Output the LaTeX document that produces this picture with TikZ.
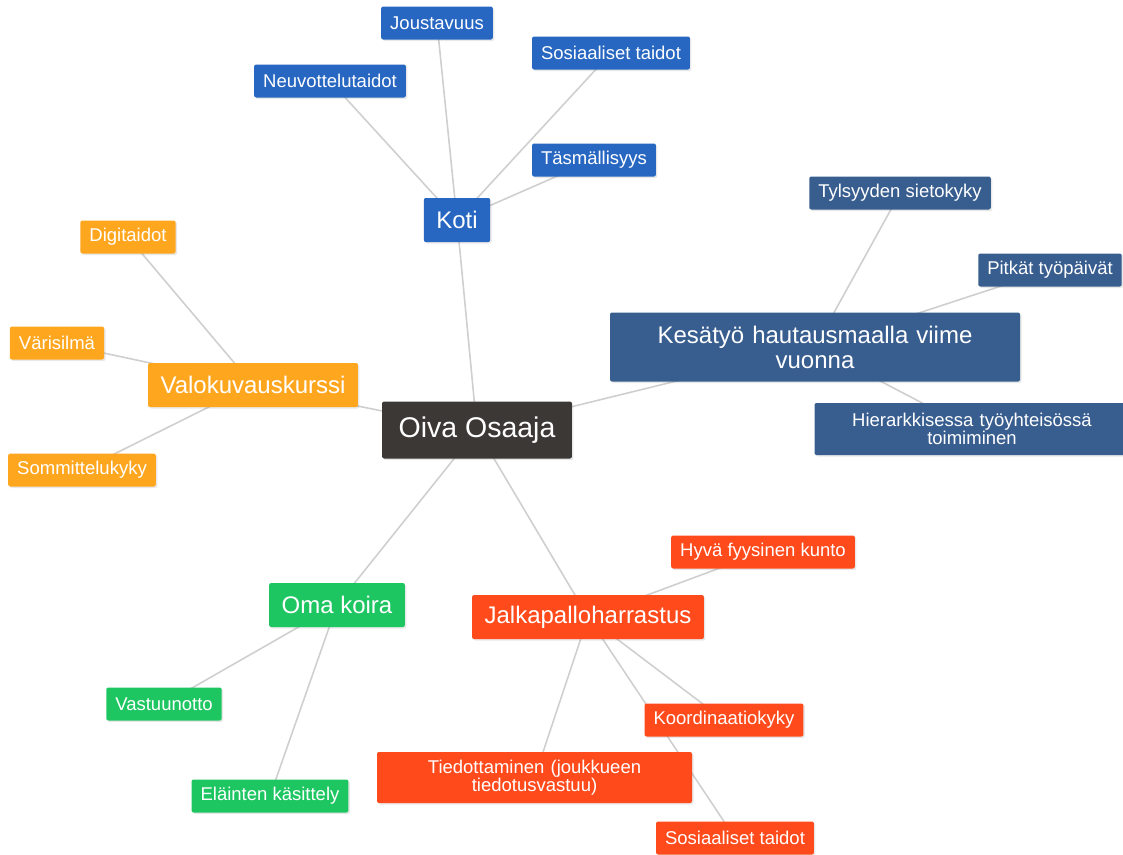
\documentclass[tikz,border=0pt]{standalone}
\usepackage{fontspec}
\setmainfont{Liberation Sans}
\usepackage{tikz}
\usetikzlibrary{shadows,backgrounds}
\definecolor{rootgray}{HTML}{3C3836}
\definecolor{kotiblue}{HTML}{2767C1}
\definecolor{workblue}{HTML}{385D8F}
\definecolor{photoorange}{HTML}{FFA61F}
\definecolor{doggreen}{HTML}{1EC662}
\definecolor{ballred}{HTML}{FF4A1C}
\definecolor{linkgray}{HTML}{CFCFCF}
\tikzset{
  card/.style={text=white,rounded corners=2pt,align=center,inner ysep=2pt,
               drop shadow={shadow xshift=1.5pt,shadow yshift=-1.5pt,opacity=0.18}},
  rootcard/.style={card,fill=rootgray,font=\fontsize{28.5}{30}\selectfont,
                   inner xsep=16.5pt,minimum height=57pt},
  hubcard/.style={card,font=\fontsize{24}{25}\selectfont,
                  inner xsep=12.5pt,minimum height=44pt},
  leafcard/.style={card,font=\fontsize{18.5}{18.5}\selectfont,
                   inner xsep=9pt,minimum height=33pt},
  link/.style={draw=linkgray,line width=1.6pt}
}
\begin{document}
\begin{tikzpicture}[x=1pt,y=-1pt]
  \useasboundingbox (0,0) rectangle (1123,854);
  \node[rootcard] (oiva) at (477,430) {Oiva Osaaja};
  % themes round the centre
  \node[hubcard,fill=kotiblue] (koti) at (457,220) {Koti};
  \node[hubcard,fill=workblue,text width=385pt,minimum height=69pt] (kesa)
    at (815,347) {Kesätyö hautausmaalla viime\\vuonna};
  \node[hubcard,fill=photoorange] (valo) at (253,385) {Valokuvauskurssi};
  \node[hubcard,fill=doggreen] (koira) at (337,605) {Oma koira};
  \node[hubcard,fill=ballred] (jalka) at (588,617) {Jalkapalloharrastus};
  % skills
  \foreach \nm/\xx/\yy/\txt in {neuvo/330/81/Neuvottelutaidot, jousto/437/23/Joustavuus,
      sosko/611/53/Sosiaaliset taidot, tasma/594/160/Täsmällisyys}{
    \node[leafcard,fill=kotiblue] (\nm) at (\xx,\yy) {\txt};
  }
  \foreach \nm/\xx/\yy/\txt in {tylsyys/900/193/Tylsyyden sietokyky,
      pitkat/1050/270/Pitkät työpäivät}{
    \node[leafcard,fill=workblue] (\nm) at (\xx,\yy) {\txt};
  }
  \node[leafcard,fill=workblue,text width=297pt,minimum height=52pt] (hierarkia)
    at (972,429) {Hierarkkisessa työyhteisössä\\toimiminen};
  \foreach \nm/\xx/\yy/\txt in {digi/128/237/Digitaidot, vari/57/343/Värisilmä,
      sommittelu/82/470/Sommittelukyky}{
    \node[leafcard,fill=photoorange] (\nm) at (\xx,\yy) {\txt};
  }
  \foreach \nm/\xx/\yy/\txt in {vastuu/164/704/Vastuunotto,
      elain/270/796/Eläinten käsittely}{
    \node[leafcard,fill=doggreen] (\nm) at (\xx,\yy) {\txt};
  }
  \foreach \nm/\xx/\yy/\txt in {hyva/763/552/Hyvä fyysinen kunto,
      koord/724/720/Koordinaatiokyky, sostj/735/838/Sosiaaliset taidot}{
    \node[leafcard,fill=ballred] (\nm) at (\xx,\yy) {\txt};
  }
  \node[leafcard,fill=ballred,text width=297pt,minimum height=51pt] (tiedo)
    at (534.5,777.5) {Tiedottaminen (joukkueen\\tiedotusvastuu)};
  % links behind the cards
  \begin{scope}[on background layer]
    \foreach \hub in {koti,kesa,valo,koira,jalka}
      \draw[link] (oiva.center) -- (\hub.center);
    \foreach \leaf in {neuvo,jousto,sosko,tasma}
      \draw[link] (koti.center) -- (\leaf.center);
    \foreach \leaf in {tylsyys,pitkat,hierarkia}
      \draw[link] (kesa.center) -- (\leaf.center);
    \foreach \leaf in {digi,vari,sommittelu}
      \draw[link] (valo.center) -- (\leaf.center);
    \foreach \leaf in {vastuu,elain}
      \draw[link] (koira.center) -- (\leaf.center);
    \foreach \leaf in {hyva,koord,sostj,tiedo}
      \draw[link] (jalka.center) -- (\leaf.center);
  \end{scope}
\end{tikzpicture}
\end{document}
